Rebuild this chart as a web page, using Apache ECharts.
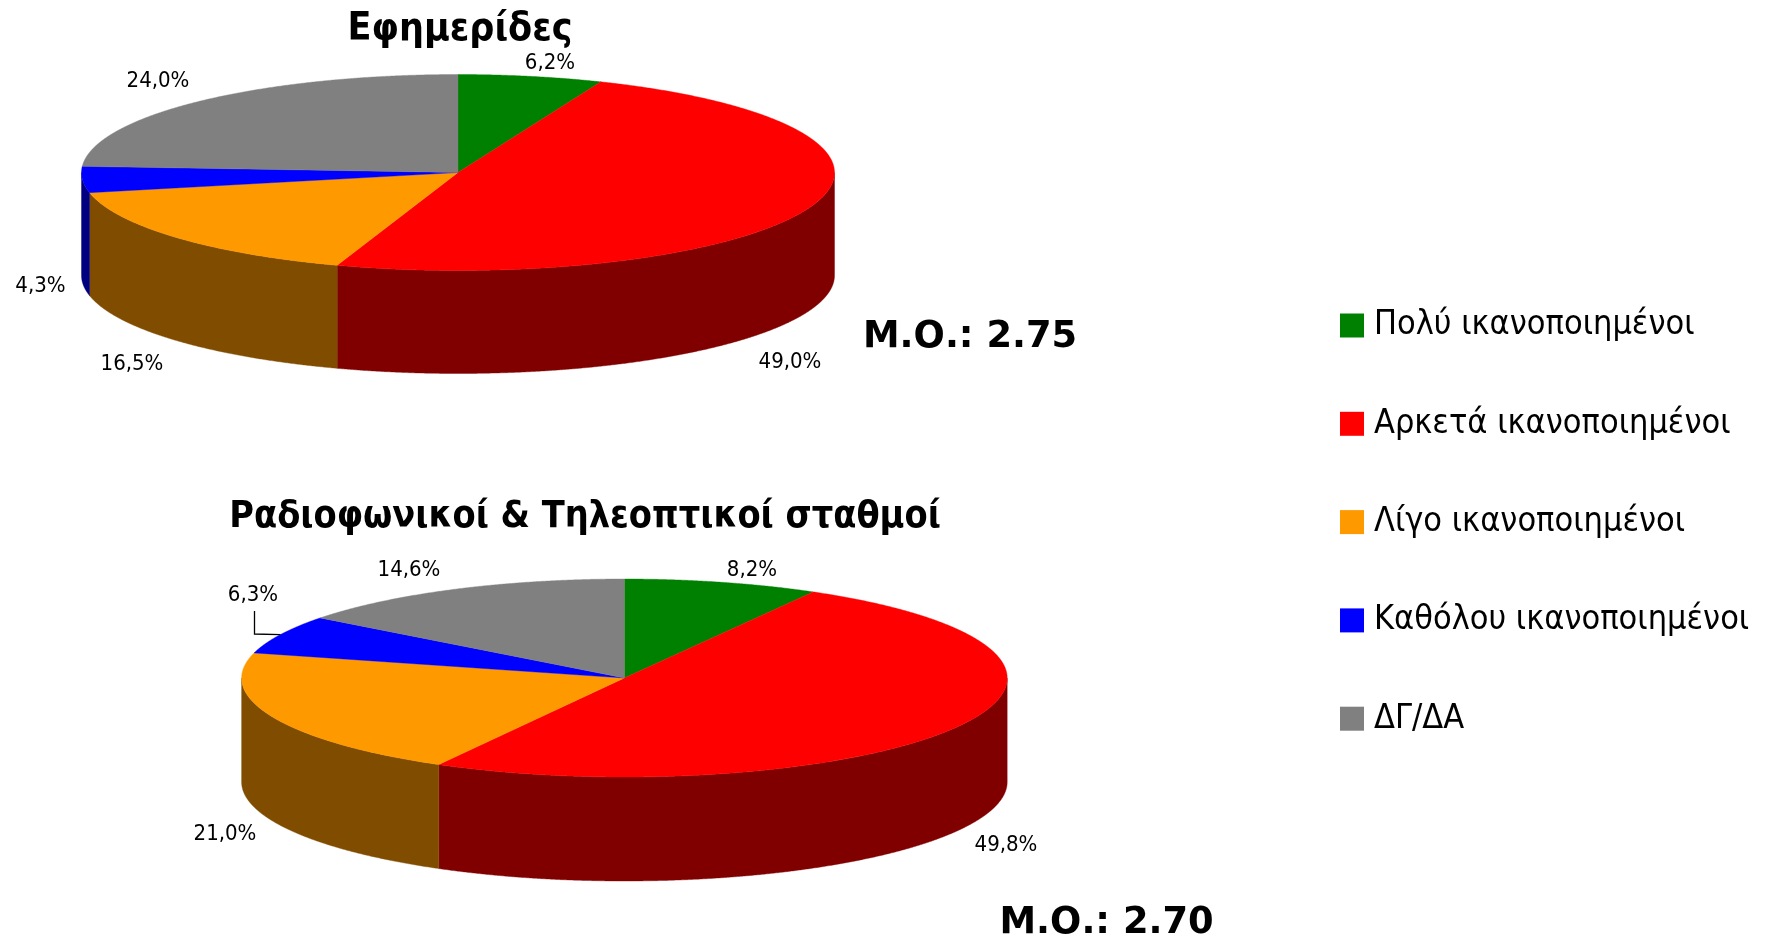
<!DOCTYPE html>
<html><head><meta charset="utf-8">
<style>html,body{margin:0;padding:0;background:#fff}#c{width:1765px;height:938px}</style>
<script src="https://cdn.jsdelivr.net/npm/echarts@6/dist/echarts.min.js"></script>
</head><body><div id="c"></div>
<script>
const categories = ['Πολύ ικανοποιημένοι','Αρκετά ικανοποιημένοι','Λίγο ικανοποιημένοι','Καθόλου ικανοποιημένοι','ΔΓ/ΔΑ'];
const newspapers = [6.2, 49.0, 16.5, 4.3, 24.0];
const broadcasters = [8.2, 49.8, 21.0, 6.3, 14.6];
const pieTitles = ['Εφημερίδες','Ραδιοφωνικοί & Τηλεοπτικοί σταθμοί'];
const averages = ['Μ.Ο.: 2.75','Μ.Ο.: 2.70'];
const pieValues = [newspapers, broadcasters];

const topColors = ['#008000','#ff0000','#ff9900','#0000ff','#808080'];
const sideColors = ['#004000','#800000','#804d00','#000080','#404040'];
const FONT = '"DejaVu Sans Condensed","DejaVu Sans",sans-serif';
const TITLE_FONT = '"DejaVu Sans",sans-serif';
const layouts = [
  {cx:458, cy:172.5, rx:376.5, ry:98, depth:103,
   labels:[[550,63],[790,362],[132,364],[40.5,286.5],[158,81.5]]},
  {cx:624.4, cy:678, rx:382.8, ry:99, depth:104,
   labels:[[752,570],[1006,845],[225,834],[253,595],[409,570]],
   leader:{slice:3, from:[254.5,611], elbow:[254.5,634]}}
];

const fmt = v => v.toFixed(1).replace('.', ',') + '%';
function pt(l, a, dy){ return [l.cx + l.rx*Math.sin(a), l.cy - l.ry*Math.cos(a) + (dy||0)]; }
function arc(l, a0, a1, dy){
  const n = Math.max(2, Math.ceil(Math.abs(a1-a0)/(Math.PI/720)));
  const out = [];
  for(let k=0;k<=n;k++) out.push(pt(l, a0+(a1-a0)*k/n, dy));
  return out;
}
function sliceAngles(vals, i){
  const tot = vals.reduce((s,v)=>s+v,0);
  let c = 0; for(let k=0;k<i;k++) c += vals[k];
  return [c/tot*2*Math.PI, (c+vals[i])/tot*2*Math.PI];
}
function renderSlice(catIdx){
  return function(params, api){
    const p = params.dataIndex, l = layouts[p], vals = pieValues[p];
    const [a0,a1] = sliceAngles(vals, catIdx);
    const children = [];
    const s0 = Math.max(a0, Math.PI/2), s1 = Math.min(a1, 3*Math.PI/2);
    if(s1 > s0){
      children.push({type:'polygon', silent:true,
        shape:{points: arc(l,s0,s1,0).concat(arc(l,s1,s0,l.depth))},
        style:{fill:sideColors[catIdx], stroke:sideColors[catIdx], lineWidth:0.4}});
    }
    children.push({type:'polygon', silent:true, z2:5,
      shape:{points:[[l.cx,l.cy]].concat(arc(l,a0,a1,0))},
      style:{fill:topColors[catIdx], stroke:topColors[catIdx], lineWidth:0.4}});
    const lp = l.labels[catIdx];
    children.push({type:'text', silent:true, z2:10, x:lp[0], y:lp[1],
      style:{text:fmt(api.value(1)), font:'22px '+FONT, fill:'#000', align:'center', verticalAlign:'middle'}});
    if(l.leader && l.leader.slice===catIdx){
      const e = pt(l,(a0+a1)/2,0);
      children.push({type:'polyline', silent:true, z2:10,
        shape:{points:[l.leader.from,l.leader.elbow,e]},
        style:{stroke:'#000',lineWidth:1.3,fill:null}});
    }
    return {type:'group', children};
  };
}
const chart = echarts.init(document.getElementById('c'), null, {renderer:'canvas'});
chart.setOption({
  animation:false, backgroundColor:'#fff',
  title:[
    {text:pieTitles[0], left:460, top:29.5, padding:0, textAlign:'center', textVerticalAlign:'middle', textStyle:{fontFamily:FONT,fontWeight:'bold',fontSize:39,color:'#000'}},
    {text:pieTitles[1], left:585, top:517.5, padding:0, textAlign:'center', textVerticalAlign:'middle', textStyle:{fontFamily:FONT,fontWeight:'bold',fontSize:37.5,color:'#000'}},
    {text:averages[0], left:863, top:337.5, padding:0, textVerticalAlign:'middle', textStyle:{fontFamily:TITLE_FONT,fontWeight:'bold',fontSize:36.8,color:'#000'}},
    {text:averages[1], left:999.5, top:923.5, padding:0, textVerticalAlign:'middle', textStyle:{fontFamily:TITLE_FONT,fontWeight:'bold',fontSize:36.8,color:'#000'}}
  ],
  legend:{orient:'vertical', left:1340, top:300.5, itemWidth:24, itemHeight:24, itemGap:48.3, selectedMode:false, icon:'rect',
    data:categories, textStyle:{fontFamily:FONT,fontSize:34,color:'#000',lineHeight:40,padding:[10,0,0,5]}, padding:0},
  series: categories.map((name,i)=>({
    type:'custom', name, coordinateSystem:'none', silent:true,
    itemStyle:{color:topColors[i]},
    renderItem:renderSlice(i),
    data:[[0,newspapers[i]],[1,broadcasters[i]]]
  }))
});
</script></body></html>
